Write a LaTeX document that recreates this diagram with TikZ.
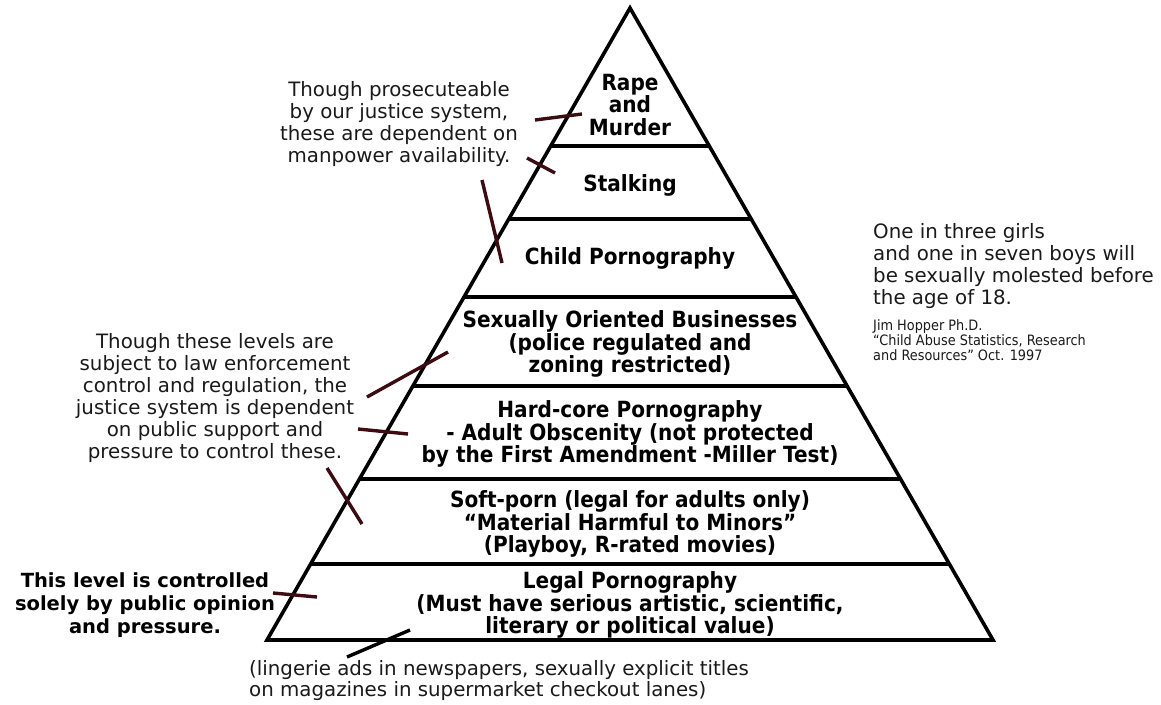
\documentclass[tikz,border=0pt]{standalone}
\usepackage{fontspec}
\setmainfont{DejaVu Sans}
\newfontfamily\condfont[FakeStretch=0.9]{DejaVu Sans}
\usetikzlibrary{calc}
\definecolor{ink}{HTML}{1A1A1A}
\definecolor{tickred}{HTML}{3D0C12}
\tikzset{
  levellabel/.style={font=\condfont\bfseries\fontsize{22.3}{22.5}\selectfont, align=center, text=black, inner sep=0pt},
  note/.style={font=\fontsize{19.8}{22}\selectfont, align=center, text=ink, inner sep=0pt},
  pyr/.style={line width=3.6pt, black, line join=miter},
  tickline/.style={line width=3.4pt, tickred},
  blacktick/.style={line width=3.4pt, black}
}
\begin{document}
\begin{tikzpicture}[x=1pt,y=-1pt]
\fill[white] (0,0) rectangle (1161,704);
\useasboundingbox (0,0) rectangle (1161,704);
% pyramid
\coordinate (A) at (630,8);
\coordinate (L) at (267,640);
\coordinate (R) at (993,640);
\draw[pyr] (A) -- (R) -- (L) -- cycle;
\foreach \t in {0.2184,0.3339,0.4573,0.5981,0.7453,0.8797}
  \draw[pyr] ($(A)!\t!(L)$) -- ($(A)!\t!(R)$);
% level labels
\node[levellabel] (l1) at (630,105) {Rape\\and\\Murder};
\node[levellabel, anchor=base] (l2) at (630,191) {Stalking};
\node[levellabel, anchor=base] (l3) at (630,264) {Child Pornography};
\node[levellabel] (l4) at (630,344) {Sexually Oriented Businesses\\(police regulated and\\zoning restricted)};
\node[levellabel] (l5) at (630,434) {Hard-core Pornography\\- Adult Obscenity (not protected\\by the First Amendment -Miller Test)};
\node[levellabel] (l6) at (630,524) {Soft-porn (legal for adults only)\\“Material Harmful to Minors”\\(Playboy, R-rated movies)};
\node[levellabel] (l7) at (630,605) {Legal Pornography\\(Must have serious artistic, scientific,\\literary or political value)};
% notes
\node[note] (n1) at (399,124) {Though prosecuteable\\by our justice system,\\these are dependent on\\manpower availability.};
\node[note] (n2) at (215,398) {Though these levels are\\subject to law enforcement\\control and regulation, the\\justice system is dependent\\on public support and\\pressure to control these.};
\node[font=\bfseries\fontsize{19.5}{23}\selectfont, align=center, text=black, inner sep=0pt] (n3) at (145,605) {This level is controlled\\solely by public opinion\\and pressure.};
\node[note, align=left, anchor=west, font=\fontsize{19.8}{21}\selectfont] (n4) at (249,681) {(lingerie ads in newspapers, sexually explicit titles\\on magazines in supermarket checkout lanes)};
\node[note, align=left, anchor=west, font=\fontsize{19.8}{22.3}\selectfont] (n5) at (873,266) {One in three girls\\and one in seven boys will\\be sexually molested before\\the age of 18.};
\node[font=\condfont\fontsize{14.3}{15}\selectfont, align=left, anchor=west, text=ink, inner sep=0pt] (n6) at (873,340) {Jim Hopper Ph.D.\\“Child Abuse Statistics, Research\\and Resources” Oct. 1997};
% tick marks
\coordinate (t1a) at (535,120); \coordinate (t1b) at (582,114);
\coordinate (t2a) at (527,158); \coordinate (t2b) at (555,173);
\coordinate (t3a) at (482,180); \coordinate (t3b) at (502,263);
\coordinate (t4a) at (367,397); \coordinate (t4b) at (448,352);
\coordinate (t5a) at (358,429); \coordinate (t5b) at (408,434);
\coordinate (t6a) at (327,468); \coordinate (t6b) at (362,524);
\coordinate (t7a) at (273,593); \coordinate (t7b) at (317,597);
\coordinate (t8a) at (347,657); \coordinate (t8b) at (410,630);
\draw[tickline] (t1a) -- (t1b);
\draw[tickline] (t2a) -- (t2b);
\draw[tickline] (t3a) -- (t3b);
\draw[tickline] (t4a) -- (t4b);
\draw[tickline] (t5a) -- (t5b);
\draw[tickline] (t6a) -- (t6b);
\draw[tickline] (t7a) -- (t7b);
\draw[blacktick] (t8a) -- (t8b);
\end{tikzpicture}
\end{document}
